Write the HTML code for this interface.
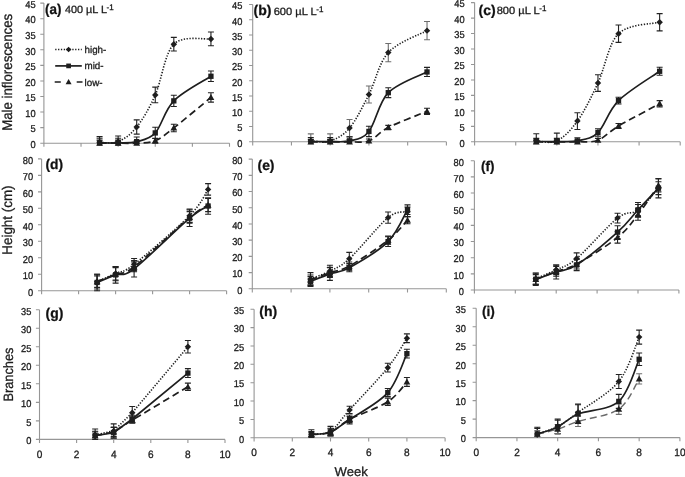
<!DOCTYPE html>
<html lang="en">
<head>
<meta charset="utf-8">
<title>Figure</title>
<style>
html,body{margin:0;padding:0;background:#fff;}
body{width:685px;height:477px;overflow:hidden;}
svg{display:block;font-family:'Liberation Sans', sans-serif;filter:blur(0.4px);}
text{stroke:#1c1c1c;stroke-width:0.3px;text-rendering:geometricPrecision;}
</style>
</head>
<body>
<svg width="685" height="477" viewBox="0 0 685 477">
<rect width="685" height="477" fill="#fff"/>
<path d="M43.9,3.11 V143.2 M43.9,143.2 H229.5 M40.3,143.2 H43.9 M40.3,127.63 H43.9 M40.3,112.07 H43.9 M40.3,96.5 H43.9 M40.3,80.94 H43.9 M40.3,65.37 H43.9 M40.3,49.81 H43.9 M40.3,34.24 H43.9 M40.3,18.68 H43.9 M40.3,3.11 H43.9 M43.9,143.2 V146.8 M81.02,143.2 V146.8 M118.14,143.2 V146.8 M155.26,143.2 V146.8 M192.38,143.2 V146.8 M229.5,143.2 V146.8" fill="none" stroke="#969696" stroke-width="1.1"/>
<text transform="translate(35.7,148) scale(0.93,1)" font-size="10" text-anchor="end" fill="#1c1c1c">0</text>
<text transform="translate(35.7,132.44) scale(0.93,1)" font-size="10" text-anchor="end" fill="#1c1c1c">5</text>
<text transform="translate(35.7,116.87) scale(0.93,1)" font-size="10" text-anchor="end" fill="#1c1c1c">10</text>
<text transform="translate(35.7,101.3) scale(0.93,1)" font-size="10" text-anchor="end" fill="#1c1c1c">15</text>
<text transform="translate(35.7,85.74) scale(0.93,1)" font-size="10" text-anchor="end" fill="#1c1c1c">20</text>
<text transform="translate(35.7,70.17) scale(0.93,1)" font-size="10" text-anchor="end" fill="#1c1c1c">25</text>
<text transform="translate(35.7,54.61) scale(0.93,1)" font-size="10" text-anchor="end" fill="#1c1c1c">30</text>
<text transform="translate(35.7,39.04) scale(0.93,1)" font-size="10" text-anchor="end" fill="#1c1c1c">35</text>
<text transform="translate(35.7,23.48) scale(0.93,1)" font-size="10" text-anchor="end" fill="#1c1c1c">40</text>
<text transform="translate(35.7,7.91) scale(0.93,1)" font-size="10" text-anchor="end" fill="#1c1c1c">45</text>
<path d="M99.58,136.66 V143.2 M96.58,136.66 H102.58 M118.14,136.04 V143.2 M115.14,136.04 H121.14 M136.7,119.85 V134.17 M133.7,119.85 H139.7 M133.7,134.17 H139.7 M155.26,87.17 V102.73 M152.26,87.17 H158.26 M152.26,102.73 H158.26 M173.82,37.36 V51.06 M170.82,37.36 H176.82 M170.82,51.06 H176.82 M210.94,32.07 V45.76 M207.94,32.07 H213.94 M207.94,45.76 H213.94" fill="none" stroke="#222" stroke-width="1.1"/>
<path d="M99.58,138.22 V143.2 M96.58,138.22 H102.58 M118.14,138.22 V143.2 M115.14,138.22 H121.14 M136.7,136.97 V143.2 M133.7,136.97 H139.7 M155.26,127.32 V138.53 M152.26,127.32 H158.26 M152.26,138.53 H158.26 M173.82,95.26 V106.47 M170.82,95.26 H176.82 M170.82,106.47 H176.82 M210.94,70.98 V81.56 M207.94,70.98 H213.94 M207.94,81.56 H213.94" fill="none" stroke="#222" stroke-width="1.1"/>
<path d="M99.58,140.09 V143.2 M96.58,140.09 H102.58 M118.14,140.09 V143.2 M115.14,140.09 H121.14 M136.7,140.71 V143.2 M133.7,140.71 H139.7 M155.26,138.22 V143.2 M152.26,138.22 H158.26 M152.26,143.2 H158.26 M173.82,124.21 V131.68 M170.82,124.21 H176.82 M170.82,131.68 H176.82 M210.94,92.77 V102.11 M207.94,92.77 H213.94 M207.94,102.11 H213.94" fill="none" stroke="#222" stroke-width="1.1"/>
<path d="M99.58,142.27 C102.67,142.16 111.95,144.19 118.14,141.64 C124.33,139.1 130.51,134.79 136.7,127.01 C142.89,119.23 149.07,108.75 155.26,94.95 C161.45,81.15 164.54,53.55 173.82,44.21 C183.1,34.87 204.75,39.8 210.94,38.91" fill="none" stroke="#1e1e1e" stroke-width="1.6" stroke-dasharray="1.3 1.55"/>
<path d="M99.58,139.05 L102.8,142.27 L99.58,145.49 L96.36,142.27Z" fill="#1e1e1e"/>
<path d="M118.14,138.42 L121.36,141.64 L118.14,144.86 L114.92,141.64Z" fill="#1e1e1e"/>
<path d="M136.7,123.79 L139.92,127.01 L136.7,130.23 L133.48,127.01Z" fill="#1e1e1e"/>
<path d="M155.26,91.73 L158.48,94.95 L155.26,98.17 L152.04,94.95Z" fill="#1e1e1e"/>
<path d="M173.82,40.99 L177.04,44.21 L173.82,47.43 L170.6,44.21Z" fill="#1e1e1e"/>
<path d="M210.94,35.69 L214.16,38.91 L210.94,42.13 L207.72,38.91Z" fill="#1e1e1e"/>
<path d="M99.58,143.2 C102.67,143.2 111.95,143.2 118.14,143.2 C124.33,143.2 130.51,143.62 136.7,143.2 C142.89,142.78 149.07,143.25 155.26,140.71 C161.45,138.17 164.54,135.16 173.82,127.95 C183.1,120.73 204.75,102.52 210.94,97.44" fill="none" stroke="#1e1e1e" stroke-width="1.7" stroke-dasharray="7 4"/>
<path d="M99.58,139.81 L102.97,145.8 L96.19,145.8Z" fill="#1e1e1e"/>
<path d="M118.14,139.81 L121.53,145.8 L114.75,145.8Z" fill="#1e1e1e"/>
<path d="M136.7,139.81 L140.09,145.8 L133.31,145.8Z" fill="#1e1e1e"/>
<path d="M155.26,137.32 L158.65,143.31 L151.87,143.31Z" fill="#1e1e1e"/>
<path d="M173.82,124.56 L177.21,130.55 L170.43,130.55Z" fill="#1e1e1e"/>
<path d="M210.94,94.05 L214.33,100.04 L207.55,100.04Z" fill="#1e1e1e"/>
<path d="M99.58,142.89 C102.67,142.89 111.95,143.1 118.14,142.89 C124.33,142.68 130.51,143.3 136.7,141.64 C142.89,139.98 149.07,139.72 155.26,132.93 C161.45,126.13 164.54,110.31 173.82,100.86 C183.1,91.42 204.75,80.37 210.94,76.27" fill="none" stroke="#1e1e1e" stroke-width="1.7"/>
<rect x="96.92" y="140.23" width="5.31" height="5.31" fill="#1e1e1e"/>
<rect x="115.48" y="140.23" width="5.31" height="5.31" fill="#1e1e1e"/>
<rect x="134.04" y="138.99" width="5.31" height="5.31" fill="#1e1e1e"/>
<rect x="152.6" y="130.27" width="5.31" height="5.31" fill="#1e1e1e"/>
<rect x="171.16" y="98.21" width="5.31" height="5.31" fill="#1e1e1e"/>
<rect x="208.28" y="73.61" width="5.31" height="5.31" fill="#1e1e1e"/>
<path d="M252.7,4.55 V141.8 M252.7,141.8 H446.4 M249.1,141.8 H252.7 M249.1,126.55 H252.7 M249.1,111.3 H252.7 M249.1,96.05 H252.7 M249.1,80.8 H252.7 M249.1,65.55 H252.7 M249.1,50.3 H252.7 M249.1,35.05 H252.7 M249.1,19.8 H252.7 M249.1,4.55 H252.7 M252.7,141.8 V145.4 M291.44,141.8 V145.4 M330.18,141.8 V145.4 M368.92,141.8 V145.4 M407.66,141.8 V145.4 M446.4,141.8 V145.4" fill="none" stroke="#969696" stroke-width="1.1"/>
<text transform="translate(242.3,146.6) scale(0.93,1)" font-size="10" text-anchor="end" fill="#1c1c1c">0</text>
<text transform="translate(242.3,131.35) scale(0.93,1)" font-size="10" text-anchor="end" fill="#1c1c1c">5</text>
<text transform="translate(242.3,116.1) scale(0.93,1)" font-size="10" text-anchor="end" fill="#1c1c1c">10</text>
<text transform="translate(242.3,100.85) scale(0.93,1)" font-size="10" text-anchor="end" fill="#1c1c1c">15</text>
<text transform="translate(242.3,85.6) scale(0.93,1)" font-size="10" text-anchor="end" fill="#1c1c1c">20</text>
<text transform="translate(242.3,70.35) scale(0.93,1)" font-size="10" text-anchor="end" fill="#1c1c1c">25</text>
<text transform="translate(242.3,55.1) scale(0.93,1)" font-size="10" text-anchor="end" fill="#1c1c1c">30</text>
<text transform="translate(242.3,39.85) scale(0.93,1)" font-size="10" text-anchor="end" fill="#1c1c1c">35</text>
<text transform="translate(242.3,24.6) scale(0.93,1)" font-size="10" text-anchor="end" fill="#1c1c1c">40</text>
<text transform="translate(242.3,9.35) scale(0.93,1)" font-size="10" text-anchor="end" fill="#1c1c1c">45</text>
<path d="M310.81,133.87 V141.8 M307.81,133.87 H313.81 M330.18,133.87 V141.8 M327.18,133.87 H333.18 M349.55,119.54 V136.62 M346.55,119.54 H352.55 M346.55,136.62 H352.55 M368.92,85.99 V103.07 M365.92,85.99 H371.92 M365.92,103.07 H371.92 M388.29,43.44 V61.74 M385.29,43.44 H391.29 M385.29,61.74 H391.29 M427.03,21.48 V39.78 M424.03,21.48 H430.03 M424.03,39.78 H430.03" fill="none" stroke="#6e6e6e" stroke-width="1.1"/>
<path d="M310.81,137.53 V141.8 M307.81,137.53 H313.81 M330.18,137.53 V141.8 M327.18,137.53 H333.18 M349.55,136.92 V141.8 M346.55,136.92 H352.55 M368.92,126.25 V136.62 M365.92,126.25 H371.92 M365.92,136.62 H371.92 M388.29,87.81 V97.58 M385.29,87.81 H391.29 M385.29,97.58 H391.29 M427.03,67.38 V76.53 M424.03,67.38 H430.03 M424.03,76.53 H430.03" fill="none" stroke="#222" stroke-width="1.1"/>
<path d="M310.81,139.36 V141.8 M307.81,139.36 H313.81 M330.18,139.36 V141.8 M327.18,139.36 H333.18 M349.55,139.36 V141.8 M346.55,139.36 H352.55 M368.92,139.06 V141.8 M365.92,139.06 H371.92 M388.29,125.33 V129.6 M385.29,125.33 H391.29 M385.29,129.6 H391.29 M427.03,108.25 V114.35 M424.03,108.25 H430.03 M424.03,114.35 H430.03" fill="none" stroke="#222" stroke-width="1.1"/>
<path d="M310.81,140.89 C314.04,140.89 323.72,143.02 330.18,140.89 C336.64,138.75 343.09,135.8 349.55,128.08 C356.01,120.35 362.46,107.11 368.92,94.53 C375.38,81.94 378.6,63.24 388.29,52.59 C397.97,41.94 420.57,34.29 427.03,30.63" fill="none" stroke="#1e1e1e" stroke-width="1.6" stroke-dasharray="1.3 1.55"/>
<path d="M310.81,137.66 L314.03,140.89 L310.81,144.11 L307.59,140.89Z" fill="#1e1e1e"/>
<path d="M330.18,137.66 L333.4,140.89 L330.18,144.11 L326.96,140.89Z" fill="#1e1e1e"/>
<path d="M349.55,124.85 L352.77,128.08 L349.55,131.3 L346.33,128.08Z" fill="#1e1e1e"/>
<path d="M368.92,91.3 L372.14,94.53 L368.92,97.75 L365.7,94.53Z" fill="#1e1e1e"/>
<path d="M388.29,49.37 L391.51,52.59 L388.29,55.81 L385.07,52.59Z" fill="#1e1e1e"/>
<path d="M427.03,27.41 L430.25,30.63 L427.03,33.85 L423.81,30.63Z" fill="#1e1e1e"/>
<path d="M310.81,141.8 C314.04,141.8 323.72,141.8 330.18,141.8 C336.64,141.8 343.09,141.95 349.55,141.8 C356.01,141.65 362.46,143.27 368.92,140.89 C375.38,138.5 378.6,132.4 388.29,127.47 C397.97,122.53 420.57,113.99 427.03,111.3" fill="none" stroke="#1e1e1e" stroke-width="1.7" stroke-dasharray="7 4"/>
<path d="M310.81,138.41 L314.2,144.4 L307.42,144.4Z" fill="#1e1e1e"/>
<path d="M330.18,138.41 L333.57,144.4 L326.79,144.4Z" fill="#1e1e1e"/>
<path d="M349.55,138.41 L352.94,144.4 L346.16,144.4Z" fill="#1e1e1e"/>
<path d="M368.92,137.5 L372.31,143.48 L365.53,143.48Z" fill="#1e1e1e"/>
<path d="M388.29,124.08 L391.68,130.06 L384.9,130.06Z" fill="#1e1e1e"/>
<path d="M427.03,107.91 L430.42,113.9 L423.64,113.9Z" fill="#1e1e1e"/>
<path d="M310.81,141.5 C314.04,141.5 323.72,141.6 330.18,141.5 C336.64,141.39 343.09,142.56 349.55,140.89 C356.01,139.21 362.46,139.46 368.92,131.43 C375.38,123.4 378.6,102.61 388.29,92.7 C397.97,82.78 420.57,75.41 427.03,71.96" fill="none" stroke="#1e1e1e" stroke-width="1.7"/>
<rect x="308.15" y="138.84" width="5.31" height="5.31" fill="#1e1e1e"/>
<rect x="327.52" y="138.84" width="5.31" height="5.31" fill="#1e1e1e"/>
<rect x="346.89" y="138.23" width="5.31" height="5.31" fill="#1e1e1e"/>
<rect x="366.26" y="128.77" width="5.31" height="5.31" fill="#1e1e1e"/>
<rect x="385.63" y="90.04" width="5.31" height="5.31" fill="#1e1e1e"/>
<rect x="424.37" y="69.3" width="5.31" height="5.31" fill="#1e1e1e"/>
<path d="M474.6,2.62 V141.8 M474.6,141.8 H680.2 M471,141.8 H474.6 M471,126.34 H474.6 M471,110.87 H474.6 M471,95.41 H474.6 M471,79.94 H474.6 M471,64.48 H474.6 M471,49.01 H474.6 M471,33.55 H474.6 M471,18.08 H474.6 M471,2.62 H474.6 M474.6,141.8 V145.4 M515.72,141.8 V145.4 M556.84,141.8 V145.4 M597.96,141.8 V145.4 M639.08,141.8 V145.4 M680.2,141.8 V145.4" fill="none" stroke="#969696" stroke-width="1.1"/>
<text transform="translate(464.6,146.6) scale(0.93,1)" font-size="10" text-anchor="end" fill="#1c1c1c">0</text>
<text transform="translate(464.6,131.14) scale(0.93,1)" font-size="10" text-anchor="end" fill="#1c1c1c">5</text>
<text transform="translate(464.6,115.67) scale(0.93,1)" font-size="10" text-anchor="end" fill="#1c1c1c">10</text>
<text transform="translate(464.6,100.21) scale(0.93,1)" font-size="10" text-anchor="end" fill="#1c1c1c">15</text>
<text transform="translate(464.6,84.74) scale(0.93,1)" font-size="10" text-anchor="end" fill="#1c1c1c">20</text>
<text transform="translate(464.6,69.28) scale(0.93,1)" font-size="10" text-anchor="end" fill="#1c1c1c">25</text>
<text transform="translate(464.6,53.81) scale(0.93,1)" font-size="10" text-anchor="end" fill="#1c1c1c">30</text>
<text transform="translate(464.6,38.35) scale(0.93,1)" font-size="10" text-anchor="end" fill="#1c1c1c">35</text>
<text transform="translate(464.6,22.88) scale(0.93,1)" font-size="10" text-anchor="end" fill="#1c1c1c">40</text>
<text transform="translate(464.6,7.42) scale(0.93,1)" font-size="10" text-anchor="end" fill="#1c1c1c">45</text>
<path d="M536.28,133.76 V141.8 M533.28,133.76 H539.28 M556.84,133.14 V141.8 M553.84,133.14 H559.84 M577.4,112.73 V129.43 M574.4,112.73 H580.4 M574.4,129.43 H580.4 M597.96,74.68 V91.38 M594.96,74.68 H600.96 M594.96,91.38 H600.96 M618.52,25.04 V42.36 M615.52,25.04 H621.52 M615.52,42.36 H621.52 M659.64,13.6 V30.92 M656.64,13.6 H662.64 M656.64,30.92 H662.64" fill="none" stroke="#222" stroke-width="1.1"/>
<path d="M536.28,138.4 V141.8 M533.28,138.4 H539.28 M556.84,138.4 V141.8 M553.84,138.4 H559.84 M577.4,137.78 V141.8 M574.4,137.78 H580.4 M597.96,128.81 V136.23 M594.96,128.81 H600.96 M594.96,136.23 H600.96 M618.52,97.26 V104.07 M615.52,97.26 H621.52 M615.52,104.07 H621.52 M659.64,67.26 V75.3 M656.64,67.26 H662.64 M656.64,75.3 H662.64" fill="none" stroke="#222" stroke-width="1.1"/>
<path d="M536.28,139.94 V141.8 M533.28,139.94 H539.28 M556.84,139.94 V141.8 M553.84,139.94 H559.84 M577.4,139.94 V141.8 M574.4,139.94 H580.4 M597.96,138.4 V141.8 M594.96,138.4 H600.96 M618.52,123.55 V128.5 M615.52,123.55 H621.52 M615.52,128.5 H621.52 M659.64,100.66 V106.85 M656.64,100.66 H662.64 M656.64,106.85 H662.64" fill="none" stroke="#222" stroke-width="1.1"/>
<path d="M536.28,140.87 C539.71,140.87 549.99,144.17 556.84,140.87 C563.69,137.57 570.55,130.72 577.4,121.08 C584.25,111.44 591.11,97.6 597.96,83.03 C604.81,68.47 608.24,43.83 618.52,33.7 C628.8,23.57 652.79,24.16 659.64,22.26" fill="none" stroke="#1e1e1e" stroke-width="1.6" stroke-dasharray="1.3 1.55"/>
<path d="M536.28,137.65 L539.5,140.87 L536.28,144.09 L533.06,140.87Z" fill="#1e1e1e"/>
<path d="M556.84,137.65 L560.06,140.87 L556.84,144.09 L553.62,140.87Z" fill="#1e1e1e"/>
<path d="M577.4,117.86 L580.62,121.08 L577.4,124.3 L574.18,121.08Z" fill="#1e1e1e"/>
<path d="M597.96,79.81 L601.18,83.03 L597.96,86.25 L594.74,83.03Z" fill="#1e1e1e"/>
<path d="M618.52,30.48 L621.74,33.7 L618.52,36.92 L615.3,33.7Z" fill="#1e1e1e"/>
<path d="M659.64,19.04 L662.86,22.26 L659.64,25.48 L656.42,22.26Z" fill="#1e1e1e"/>
<path d="M536.28,141.8 C539.71,141.8 549.99,141.8 556.84,141.8 C563.69,141.8 570.55,142.06 577.4,141.8 C584.25,141.54 591.11,142.88 597.96,140.25 C604.81,137.62 608.24,132.11 618.52,126.03 C628.8,119.94 652.79,107.47 659.64,103.76" fill="none" stroke="#1e1e1e" stroke-width="1.7" stroke-dasharray="7 4"/>
<path d="M536.28,138.41 L539.67,144.4 L532.89,144.4Z" fill="#1e1e1e"/>
<path d="M556.84,138.41 L560.23,144.4 L553.45,144.4Z" fill="#1e1e1e"/>
<path d="M577.4,138.41 L580.79,144.4 L574.01,144.4Z" fill="#1e1e1e"/>
<path d="M597.96,136.86 L601.35,142.85 L594.57,142.85Z" fill="#1e1e1e"/>
<path d="M618.52,122.64 L621.91,128.62 L615.13,128.62Z" fill="#1e1e1e"/>
<path d="M659.64,100.37 L663.03,106.36 L656.25,106.36Z" fill="#1e1e1e"/>
<path d="M536.28,141.49 C539.71,141.49 549.99,141.59 556.84,141.49 C563.69,141.39 570.55,142.37 577.4,140.87 C584.25,139.38 591.11,139.22 597.96,132.52 C604.81,125.82 608.24,110.87 618.52,100.66 C628.8,90.46 652.79,76.18 659.64,71.28" fill="none" stroke="#1e1e1e" stroke-width="1.7"/>
<rect x="533.62" y="138.84" width="5.31" height="5.31" fill="#1e1e1e"/>
<rect x="554.18" y="138.84" width="5.31" height="5.31" fill="#1e1e1e"/>
<rect x="574.74" y="138.22" width="5.31" height="5.31" fill="#1e1e1e"/>
<rect x="595.3" y="129.87" width="5.31" height="5.31" fill="#1e1e1e"/>
<rect x="615.86" y="98.01" width="5.31" height="5.31" fill="#1e1e1e"/>
<rect x="656.98" y="68.62" width="5.31" height="5.31" fill="#1e1e1e"/>
<path d="M41.6,158.9 V290.7 M41.6,290.7 H226.6 M38,290.7 H41.6 M38,274.22 H41.6 M38,257.75 H41.6 M38,241.27 H41.6 M38,224.8 H41.6 M38,208.32 H41.6 M38,191.85 H41.6 M38,175.38 H41.6 M38,158.9 H41.6 M41.6,290.7 V294.3 M78.6,290.7 V294.3 M115.6,290.7 V294.3 M152.6,290.7 V294.3 M189.6,290.7 V294.3 M226.6,290.7 V294.3" fill="none" stroke="#969696" stroke-width="1.1"/>
<text transform="translate(33.2,295.5) scale(0.93,1)" font-size="10" text-anchor="end" fill="#1c1c1c">0</text>
<text transform="translate(33.2,279.02) scale(0.93,1)" font-size="10" text-anchor="end" fill="#1c1c1c">10</text>
<text transform="translate(33.2,262.55) scale(0.93,1)" font-size="10" text-anchor="end" fill="#1c1c1c">20</text>
<text transform="translate(33.2,246.07) scale(0.93,1)" font-size="10" text-anchor="end" fill="#1c1c1c">30</text>
<text transform="translate(33.2,229.6) scale(0.93,1)" font-size="10" text-anchor="end" fill="#1c1c1c">40</text>
<text transform="translate(33.2,213.12) scale(0.93,1)" font-size="10" text-anchor="end" fill="#1c1c1c">50</text>
<text transform="translate(33.2,196.65) scale(0.93,1)" font-size="10" text-anchor="end" fill="#1c1c1c">60</text>
<text transform="translate(33.2,180.18) scale(0.93,1)" font-size="10" text-anchor="end" fill="#1c1c1c">70</text>
<text transform="translate(33.2,163.7) scale(0.93,1)" font-size="10" text-anchor="end" fill="#1c1c1c">80</text>
<path d="M97.1,274.22 V289.05 M94.1,274.22 H100.1 M94.1,289.05 H100.1 M115.6,266.81 V279.99 M112.6,266.81 H118.6 M112.6,279.99 H118.6 M134.1,258.57 V270.11 M131.1,258.57 H137.1 M131.1,270.11 H137.1 M189.6,209.15 V222.33 M186.6,209.15 H192.6 M186.6,222.33 H192.6 M208.1,183.61 V195.14 M205.1,183.61 H211.1 M205.1,195.14 H211.1" fill="none" stroke="#222" stroke-width="1.1"/>
<path d="M97.1,274.22 V290.7 M94.1,274.22 H100.1 M94.1,290.7 H100.1 M115.6,266.65 V283.12 M112.6,266.65 H118.6 M112.6,283.12 H118.6 M134.1,260.55 V277.03 M131.1,260.55 H137.1 M131.1,277.03 H137.1 M189.6,209.97 V226.45 M186.6,209.97 H192.6 M186.6,226.45 H192.6 M208.1,197.78 V214.26 M205.1,197.78 H211.1 M205.1,214.26 H211.1" fill="none" stroke="#222" stroke-width="1.1"/>
<path d="M97.1,275.87 V287.4 M94.1,275.87 H100.1 M94.1,287.4 H100.1 M115.6,267.63 V280.81 M112.6,267.63 H118.6 M112.6,280.81 H118.6 M134.1,261.87 V271.75 M131.1,261.87 H137.1 M131.1,271.75 H137.1 M189.6,211.62 V223.15 M186.6,211.62 H192.6 M186.6,223.15 H192.6 M208.1,198.44 V211.62 M205.1,198.44 H211.1 M205.1,211.62 H211.1" fill="none" stroke="#222" stroke-width="1.1"/>
<path d="M97.1,281.64 C100.18,280.27 109.43,276.28 115.6,273.4 C121.77,270.52 121.77,273.95 134.1,264.34 C146.43,254.73 177.27,228.23 189.6,215.74 C201.93,203.25 205.02,193.77 208.1,189.38" fill="none" stroke="#1e1e1e" stroke-width="1.6" stroke-dasharray="1.3 1.55"/>
<path d="M97.1,278.42 L100.32,281.64 L97.1,284.86 L93.88,281.64Z" fill="#1e1e1e"/>
<path d="M115.6,270.18 L118.82,273.4 L115.6,276.62 L112.38,273.4Z" fill="#1e1e1e"/>
<path d="M134.1,261.12 L137.32,264.34 L134.1,267.56 L130.88,264.34Z" fill="#1e1e1e"/>
<path d="M189.6,212.52 L192.82,215.74 L189.6,218.96 L186.38,215.74Z" fill="#1e1e1e"/>
<path d="M208.1,186.16 L211.32,189.38 L208.1,192.6 L204.88,189.38Z" fill="#1e1e1e"/>
<path d="M97.1,281.64 C100.18,280.4 109.43,276.7 115.6,274.22 C121.77,271.75 121.77,276.28 134.1,266.81 C146.43,257.34 177.27,227.68 189.6,217.39 C201.93,207.09 205.02,207.09 208.1,205.03" fill="none" stroke="#1e1e1e" stroke-width="1.7" stroke-dasharray="7 4"/>
<path d="M97.1,278.25 L100.49,284.24 L93.71,284.24Z" fill="#1e1e1e"/>
<path d="M115.6,270.83 L118.99,276.82 L112.21,276.82Z" fill="#1e1e1e"/>
<path d="M134.1,263.42 L137.49,269.41 L130.71,269.41Z" fill="#1e1e1e"/>
<path d="M189.6,214 L192.99,219.99 L186.21,219.99Z" fill="#1e1e1e"/>
<path d="M208.1,201.64 L211.49,207.63 L204.71,207.63Z" fill="#1e1e1e"/>
<path d="M97.1,282.46 C100.18,281.2 109.43,277.16 115.6,274.88 C121.77,272.6 121.77,278.23 134.1,268.79 C146.43,259.34 177.27,228.67 189.6,218.21 C201.93,207.75 205.02,208.05 208.1,206.02" fill="none" stroke="#1e1e1e" stroke-width="1.7"/>
<rect x="94.44" y="279.81" width="5.31" height="5.31" fill="#1e1e1e"/>
<rect x="112.94" y="272.23" width="5.31" height="5.31" fill="#1e1e1e"/>
<rect x="131.44" y="266.13" width="5.31" height="5.31" fill="#1e1e1e"/>
<rect x="186.94" y="215.55" width="5.31" height="5.31" fill="#1e1e1e"/>
<rect x="205.44" y="203.36" width="5.31" height="5.31" fill="#1e1e1e"/>
<path d="M252.3,159.12 V288.8 M252.3,288.8 H446.3 M248.7,288.8 H252.3 M248.7,272.59 H252.3 M248.7,256.38 H252.3 M248.7,240.17 H252.3 M248.7,223.96 H252.3 M248.7,207.75 H252.3 M248.7,191.54 H252.3 M248.7,175.33 H252.3 M248.7,159.12 H252.3 M252.3,288.8 V292.4 M291.1,288.8 V292.4 M329.9,288.8 V292.4 M368.7,288.8 V292.4 M407.5,288.8 V292.4 M446.3,288.8 V292.4" fill="none" stroke="#969696" stroke-width="1.1"/>
<text transform="translate(242.5,293.6) scale(0.93,1)" font-size="10" text-anchor="end" fill="#1c1c1c">0</text>
<text transform="translate(242.5,277.39) scale(0.93,1)" font-size="10" text-anchor="end" fill="#1c1c1c">10</text>
<text transform="translate(242.5,261.18) scale(0.93,1)" font-size="10" text-anchor="end" fill="#1c1c1c">20</text>
<text transform="translate(242.5,244.97) scale(0.93,1)" font-size="10" text-anchor="end" fill="#1c1c1c">30</text>
<text transform="translate(242.5,228.76) scale(0.93,1)" font-size="10" text-anchor="end" fill="#1c1c1c">40</text>
<text transform="translate(242.5,212.55) scale(0.93,1)" font-size="10" text-anchor="end" fill="#1c1c1c">50</text>
<text transform="translate(242.5,196.34) scale(0.93,1)" font-size="10" text-anchor="end" fill="#1c1c1c">60</text>
<text transform="translate(242.5,180.13) scale(0.93,1)" font-size="10" text-anchor="end" fill="#1c1c1c">70</text>
<text transform="translate(242.5,163.92) scale(0.93,1)" font-size="10" text-anchor="end" fill="#1c1c1c">80</text>
<path d="M310.5,272.59 V285.56 M307.5,272.59 H313.5 M307.5,285.56 H313.5 M329.9,265.3 V276.64 M326.9,265.3 H332.9 M326.9,276.64 H332.9 M349.3,252.33 V265.3 M346.3,252.33 H352.3 M346.3,265.3 H352.3 M388.1,211.96 V223.31 M385.1,211.96 H391.1 M385.1,223.31 H391.1 M407.5,206.94 V216.67 M404.5,206.94 H410.5 M404.5,216.67 H410.5" fill="none" stroke="#222" stroke-width="1.1"/>
<path d="M310.5,276.64 V286.37 M307.5,276.64 H313.5 M307.5,286.37 H313.5 M329.9,267.4 V280.37 M326.9,267.4 H332.9 M326.9,280.37 H332.9 M349.3,263.67 V271.78 M346.3,263.67 H352.3 M346.3,271.78 H352.3 M388.1,236.77 V246.49 M385.1,236.77 H391.1 M385.1,246.49 H391.1 M407.5,204.83 V214.56 M404.5,204.83 H410.5 M404.5,214.56 H410.5" fill="none" stroke="#222" stroke-width="1.1"/>
<path d="M310.5,275.02 V284.75 M307.5,275.02 H313.5 M307.5,284.75 H313.5 M329.9,267.73 V277.45 M326.9,267.73 H332.9 M326.9,277.45 H332.9 M349.3,262.05 V270.16 M346.3,262.05 H352.3 M346.3,270.16 H352.3 M388.1,236.12 V244.22 M385.1,236.12 H391.1 M385.1,244.22 H391.1 M407.5,216.67 V223.8 M404.5,216.67 H410.5 M404.5,223.8 H410.5" fill="none" stroke="#222" stroke-width="1.1"/>
<path d="M310.5,279.07 C313.73,277.72 323.43,274.35 329.9,270.97 C336.37,267.59 339.6,267.7 349.3,258.81 C359,249.92 378.4,225.47 388.1,217.64 C397.8,209.8 404.27,212.78 407.5,211.8" fill="none" stroke="#1e1e1e" stroke-width="1.6" stroke-dasharray="1.3 1.55"/>
<path d="M310.5,275.85 L313.72,279.07 L310.5,282.29 L307.28,279.07Z" fill="#1e1e1e"/>
<path d="M329.9,267.75 L333.12,270.97 L329.9,274.19 L326.68,270.97Z" fill="#1e1e1e"/>
<path d="M349.3,255.59 L352.52,258.81 L349.3,262.03 L346.08,258.81Z" fill="#1e1e1e"/>
<path d="M388.1,214.42 L391.32,217.64 L388.1,220.86 L384.88,217.64Z" fill="#1e1e1e"/>
<path d="M407.5,208.58 L410.72,211.8 L407.5,215.02 L404.28,211.8Z" fill="#1e1e1e"/>
<path d="M310.5,279.88 C313.73,278.67 323.43,274.89 329.9,272.59 C336.37,270.29 339.6,271.51 349.3,266.11 C359,260.7 378.4,247.82 388.1,240.17 C397.8,232.52 404.27,223.55 407.5,220.23" fill="none" stroke="#1e1e1e" stroke-width="1.7" stroke-dasharray="7 4"/>
<path d="M310.5,276.49 L313.89,282.48 L307.11,282.48Z" fill="#1e1e1e"/>
<path d="M329.9,269.2 L333.29,275.19 L326.51,275.19Z" fill="#1e1e1e"/>
<path d="M349.3,262.72 L352.69,268.7 L345.91,268.7Z" fill="#1e1e1e"/>
<path d="M388.1,236.78 L391.49,242.77 L384.71,242.77Z" fill="#1e1e1e"/>
<path d="M407.5,216.84 L410.89,222.83 L404.11,222.83Z" fill="#1e1e1e"/>
<path d="M310.5,281.51 C313.73,280.24 323.43,276.18 329.9,273.89 C336.37,271.59 339.6,273.1 349.3,267.73 C359,262.35 378.4,251.3 388.1,241.63 C397.8,231.96 404.27,215.02 407.5,209.7" fill="none" stroke="#1e1e1e" stroke-width="1.7"/>
<rect x="307.84" y="278.85" width="5.31" height="5.31" fill="#1e1e1e"/>
<rect x="327.24" y="271.23" width="5.31" height="5.31" fill="#1e1e1e"/>
<rect x="346.64" y="265.07" width="5.31" height="5.31" fill="#1e1e1e"/>
<rect x="385.44" y="238.97" width="5.31" height="5.31" fill="#1e1e1e"/>
<rect x="404.84" y="207.04" width="5.31" height="5.31" fill="#1e1e1e"/>
<path d="M474.4,160.72 V290 M474.4,290 H678.9 M470.8,290 H474.4 M470.8,273.84 H474.4 M470.8,257.68 H474.4 M470.8,241.52 H474.4 M470.8,225.36 H474.4 M470.8,209.2 H474.4 M470.8,193.04 H474.4 M470.8,176.88 H474.4 M470.8,160.72 H474.4 M474.4,290 V293.6 M515.3,290 V293.6 M556.2,290 V293.6 M597.1,290 V293.6 M638,290 V293.6 M678.9,290 V293.6" fill="none" stroke="#969696" stroke-width="1.1"/>
<text transform="translate(463.8,294.8) scale(0.93,1)" font-size="10" text-anchor="end" fill="#1c1c1c">0</text>
<text transform="translate(463.8,278.64) scale(0.93,1)" font-size="10" text-anchor="end" fill="#1c1c1c">10</text>
<text transform="translate(463.8,262.48) scale(0.93,1)" font-size="10" text-anchor="end" fill="#1c1c1c">20</text>
<text transform="translate(463.8,246.32) scale(0.93,1)" font-size="10" text-anchor="end" fill="#1c1c1c">30</text>
<text transform="translate(463.8,230.16) scale(0.93,1)" font-size="10" text-anchor="end" fill="#1c1c1c">40</text>
<text transform="translate(463.8,214) scale(0.93,1)" font-size="10" text-anchor="end" fill="#1c1c1c">50</text>
<text transform="translate(463.8,197.84) scale(0.93,1)" font-size="10" text-anchor="end" fill="#1c1c1c">60</text>
<text transform="translate(463.8,181.68) scale(0.93,1)" font-size="10" text-anchor="end" fill="#1c1c1c">70</text>
<text transform="translate(463.8,165.52) scale(0.93,1)" font-size="10" text-anchor="end" fill="#1c1c1c">80</text>
<path d="M535.75,273.03 V284.34 M532.75,273.03 H538.75 M532.75,284.34 H538.75 M556.2,264.95 V274.65 M553.2,264.95 H559.2 M553.2,274.65 H559.2 M576.65,252.83 V264.14 M573.65,252.83 H579.65 M573.65,264.14 H579.65 M617.55,213.24 V222.94 M614.55,213.24 H620.55 M614.55,222.94 H620.55 M638,204.51 V215.83 M635,204.51 H641 M635,215.83 H641 M658.45,181.73 V194.66 M655.45,181.73 H661.45 M655.45,194.66 H661.45" fill="none" stroke="#222" stroke-width="1.1"/>
<path d="M535.75,273.19 V285.48 M532.75,273.19 H538.75 M532.75,285.48 H538.75 M556.2,265.11 V279.01 M553.2,265.11 H559.2 M553.2,279.01 H559.2 M576.65,259.3 V270.61 M573.65,259.3 H579.65 M573.65,270.61 H579.65 M617.55,225.68 V238.61 M614.55,225.68 H620.55 M614.55,238.61 H620.55 M638,202.57 V217.12 M635,202.57 H641 M635,217.12 H641 M658.45,178.5 V197.89 M655.45,178.5 H661.45 M655.45,197.89 H661.45" fill="none" stroke="#222" stroke-width="1.1"/>
<path d="M535.75,274.65 V284.34 M532.75,274.65 H538.75 M532.75,284.34 H538.75 M556.2,266.57 V276.26 M553.2,266.57 H559.2 M553.2,276.26 H559.2 M576.65,259.3 V268.99 M573.65,259.3 H579.65 M573.65,268.99 H579.65 M617.55,231.82 V243.14 M614.55,231.82 H620.55 M614.55,243.14 H620.55 M638,208.88 V220.19 M635,208.88 H641 M635,220.19 H641 M658.45,178.98 V191.91 M655.45,178.98 H661.45 M655.45,191.91 H661.45" fill="none" stroke="#222" stroke-width="1.1"/>
<path d="M535.75,278.69 C539.16,277.21 549.38,273.17 556.2,269.8 C563.02,266.43 566.42,267.11 576.65,258.49 C586.88,249.87 607.32,226.14 617.55,218.09 C627.77,210.03 631.18,215.15 638,210.17 C644.82,205.19 655.04,191.85 658.45,188.19" fill="none" stroke="#1e1e1e" stroke-width="1.6" stroke-dasharray="1.3 1.55"/>
<path d="M535.75,275.47 L538.97,278.69 L535.75,281.91 L532.53,278.69Z" fill="#1e1e1e"/>
<path d="M556.2,266.58 L559.42,269.8 L556.2,273.02 L552.98,269.8Z" fill="#1e1e1e"/>
<path d="M576.65,255.27 L579.87,258.49 L576.65,261.71 L573.43,258.49Z" fill="#1e1e1e"/>
<path d="M617.55,214.87 L620.77,218.09 L617.55,221.31 L614.33,218.09Z" fill="#1e1e1e"/>
<path d="M638,206.95 L641.22,210.17 L638,213.39 L634.78,210.17Z" fill="#1e1e1e"/>
<path d="M658.45,184.97 L661.67,188.19 L658.45,191.41 L655.23,188.19Z" fill="#1e1e1e"/>
<path d="M535.75,279.5 C539.16,278.15 549.38,273.97 556.2,271.42 C563.02,268.86 566.42,269.8 576.65,264.14 C586.88,258.49 607.32,245.75 617.55,237.48 C627.77,229.21 631.18,223.21 638,214.53 C644.82,205.86 655.04,190.29 658.45,185.44" fill="none" stroke="#1e1e1e" stroke-width="1.7" stroke-dasharray="7 4"/>
<path d="M535.75,276.11 L539.14,282.09 L532.36,282.09Z" fill="#1e1e1e"/>
<path d="M556.2,268.03 L559.59,274.01 L552.81,274.01Z" fill="#1e1e1e"/>
<path d="M576.65,260.75 L580.04,266.74 L573.26,266.74Z" fill="#1e1e1e"/>
<path d="M617.55,234.09 L620.94,240.08 L614.16,240.08Z" fill="#1e1e1e"/>
<path d="M638,211.14 L641.39,217.13 L634.61,217.13Z" fill="#1e1e1e"/>
<path d="M658.45,182.05 L661.84,188.04 L655.06,188.04Z" fill="#1e1e1e"/>
<path d="M535.75,279.33 C539.16,278.12 549.38,274.46 556.2,272.06 C563.02,269.67 566.42,271.6 576.65,264.95 C586.88,258.3 607.32,241.33 617.55,232.15 C627.77,222.96 631.18,217.17 638,209.85 C644.82,202.52 655.04,191.8 658.45,188.19" fill="none" stroke="#1e1e1e" stroke-width="1.7"/>
<rect x="533.09" y="276.68" width="5.31" height="5.31" fill="#1e1e1e"/>
<rect x="553.54" y="269.41" width="5.31" height="5.31" fill="#1e1e1e"/>
<rect x="573.99" y="262.3" width="5.31" height="5.31" fill="#1e1e1e"/>
<rect x="614.89" y="229.49" width="5.31" height="5.31" fill="#1e1e1e"/>
<rect x="635.34" y="207.19" width="5.31" height="5.31" fill="#1e1e1e"/>
<rect x="655.79" y="185.54" width="5.31" height="5.31" fill="#1e1e1e"/>
<path d="M39.5,309.72 V439.4 M39.5,439.4 H225 M35.9,439.4 H39.5 M35.9,420.88 H39.5 M35.9,402.35 H39.5 M35.9,383.82 H39.5 M35.9,365.3 H39.5 M35.9,346.77 H39.5 M35.9,328.25 H39.5 M35.9,309.72 H39.5 M39.5,439.4 V443 M76.6,439.4 V443 M113.7,439.4 V443 M150.8,439.4 V443 M187.9,439.4 V443 M225,439.4 V443" fill="none" stroke="#969696" stroke-width="1.1"/>
<text transform="translate(31.4,444.2) scale(0.93,1)" font-size="10" text-anchor="end" fill="#1c1c1c">0</text>
<text transform="translate(31.4,425.68) scale(0.93,1)" font-size="10" text-anchor="end" fill="#1c1c1c">5</text>
<text transform="translate(31.4,407.15) scale(0.93,1)" font-size="10" text-anchor="end" fill="#1c1c1c">10</text>
<text transform="translate(31.4,388.62) scale(0.93,1)" font-size="10" text-anchor="end" fill="#1c1c1c">15</text>
<text transform="translate(31.4,370.1) scale(0.93,1)" font-size="10" text-anchor="end" fill="#1c1c1c">20</text>
<text transform="translate(31.4,351.57) scale(0.93,1)" font-size="10" text-anchor="end" fill="#1c1c1c">25</text>
<text transform="translate(31.4,333.05) scale(0.93,1)" font-size="10" text-anchor="end" fill="#1c1c1c">30</text>
<text transform="translate(31.4,314.52) scale(0.93,1)" font-size="10" text-anchor="end" fill="#1c1c1c">35</text>
<path d="M95.15,429.03 V439.4 M92.15,429.03 H98.15 M113.7,423.84 V437.92 M110.7,423.84 H116.7 M110.7,437.92 H116.7 M132.25,406.43 V419.02 M129.25,406.43 H135.25 M129.25,419.02 H135.25 M187.9,340.48 V353.07 M184.9,340.48 H190.9 M184.9,353.07 H190.9" fill="none" stroke="#222" stroke-width="1.1"/>
<path d="M95.15,431.25 V439.4 M92.15,431.25 H98.15 M113.7,427.17 V438.29 M110.7,427.17 H116.7 M110.7,438.29 H116.7 M132.25,415.32 V422.73 M129.25,415.32 H135.25 M129.25,422.73 H135.25 M187.9,368.63 V377.53 M184.9,368.63 H190.9 M184.9,377.53 H190.9" fill="none" stroke="#222" stroke-width="1.1"/>
<path d="M95.15,431.99 V439.4 M92.15,431.99 H98.15 M92.15,439.4 H98.15 M113.7,427.54 V436.44 M110.7,427.54 H116.7 M110.7,436.44 H116.7 M132.25,417.17 V423.1 M129.25,417.17 H135.25 M129.25,423.1 H135.25 M187.9,383.08 V390.49 M184.9,383.08 H190.9 M184.9,390.49 H190.9" fill="none" stroke="#222" stroke-width="1.1"/>
<path d="M95.15,434.95 L113.7,430.88 L132.25,412.72 L187.9,346.77" fill="none" stroke="#1e1e1e" stroke-width="1.6" stroke-dasharray="1.3 1.55"/>
<path d="M95.15,431.73 L98.37,434.95 L95.15,438.17 L91.93,434.95Z" fill="#1e1e1e"/>
<path d="M113.7,427.66 L116.92,430.88 L113.7,434.1 L110.48,430.88Z" fill="#1e1e1e"/>
<path d="M132.25,409.5 L135.47,412.72 L132.25,415.94 L129.03,412.72Z" fill="#1e1e1e"/>
<path d="M187.9,343.55 L191.12,346.77 L187.9,350 L184.68,346.77Z" fill="#1e1e1e"/>
<path d="M95.15,435.69 L113.7,431.99 L132.25,420.13 L187.9,386.79" fill="none" stroke="#1e1e1e" stroke-width="1.7" stroke-dasharray="7 4"/>
<path d="M95.15,432.31 L98.54,438.29 L91.76,438.29Z" fill="#1e1e1e"/>
<path d="M113.7,428.6 L117.09,434.59 L110.31,434.59Z" fill="#1e1e1e"/>
<path d="M132.25,416.74 L135.64,422.73 L128.86,422.73Z" fill="#1e1e1e"/>
<path d="M187.9,383.4 L191.29,389.39 L184.51,389.39Z" fill="#1e1e1e"/>
<path d="M95.15,435.69 L113.7,432.73 L132.25,419.02 L187.9,373.08" fill="none" stroke="#1e1e1e" stroke-width="1.7"/>
<rect x="92.49" y="433.04" width="5.31" height="5.31" fill="#1e1e1e"/>
<rect x="111.04" y="430.08" width="5.31" height="5.31" fill="#1e1e1e"/>
<rect x="129.59" y="416.37" width="5.31" height="5.31" fill="#1e1e1e"/>
<rect x="185.24" y="370.42" width="5.31" height="5.31" fill="#1e1e1e"/>
<path d="M254.1,309.21 V437.8 M254.1,437.8 H445.1 M250.5,437.8 H254.1 M250.5,419.43 H254.1 M250.5,401.06 H254.1 M250.5,382.69 H254.1 M250.5,364.32 H254.1 M250.5,345.95 H254.1 M250.5,327.58 H254.1 M250.5,309.21 H254.1 M254.1,437.8 V441.4 M292.3,437.8 V441.4 M330.5,437.8 V441.4 M368.7,437.8 V441.4 M406.9,437.8 V441.4 M445.1,437.8 V441.4" fill="none" stroke="#969696" stroke-width="1.1"/>
<text transform="translate(244.1,442.6) scale(0.93,1)" font-size="10" text-anchor="end" fill="#1c1c1c">0</text>
<text transform="translate(244.1,424.23) scale(0.93,1)" font-size="10" text-anchor="end" fill="#1c1c1c">5</text>
<text transform="translate(244.1,405.86) scale(0.93,1)" font-size="10" text-anchor="end" fill="#1c1c1c">10</text>
<text transform="translate(244.1,387.49) scale(0.93,1)" font-size="10" text-anchor="end" fill="#1c1c1c">15</text>
<text transform="translate(244.1,369.12) scale(0.93,1)" font-size="10" text-anchor="end" fill="#1c1c1c">20</text>
<text transform="translate(244.1,350.75) scale(0.93,1)" font-size="10" text-anchor="end" fill="#1c1c1c">25</text>
<text transform="translate(244.1,332.38) scale(0.93,1)" font-size="10" text-anchor="end" fill="#1c1c1c">30</text>
<text transform="translate(244.1,314.01) scale(0.93,1)" font-size="10" text-anchor="end" fill="#1c1c1c">35</text>
<path d="M311.4,429.72 V437.8 M308.4,429.72 H314.4 M330.5,426.41 V435.96 M327.5,426.41 H333.5 M327.5,435.96 H333.5 M349.6,406.2 V413.55 M346.6,406.2 H352.6 M346.6,413.55 H352.6 M387.8,363.22 V372.04 M384.8,363.22 H390.8 M384.8,372.04 H390.8 M406.9,333.83 V342.64 M403.9,333.83 H409.9 M403.9,342.64 H409.9" fill="none" stroke="#222" stroke-width="1.1"/>
<path d="M311.4,431.55 V437.43 M308.4,431.55 H314.4 M308.4,437.43 H314.4 M330.5,428.25 V435.6 M327.5,428.25 H333.5 M327.5,435.6 H333.5 M349.6,415.02 V423.84 M346.6,415.02 H352.6 M346.6,423.84 H352.6 M387.8,388.57 V396.65 M384.8,388.57 H390.8 M384.8,396.65 H390.8 M406.9,349.26 V358.07 M403.9,349.26 H409.9 M403.9,358.07 H409.9" fill="none" stroke="#222" stroke-width="1.1"/>
<path d="M311.4,432.29 V436.7 M308.4,432.29 H314.4 M308.4,436.7 H314.4 M330.5,428.98 V435.6 M327.5,428.98 H333.5 M327.5,435.6 H333.5 M349.6,416.49 V422.37 M346.6,416.49 H352.6 M346.6,422.37 H352.6 M387.8,398.12 V405.47 M384.8,398.12 H390.8 M384.8,405.47 H390.8 M406.9,377.55 V386.36 M403.9,377.55 H409.9 M403.9,386.36 H409.9" fill="none" stroke="#222" stroke-width="1.1"/>
<path d="M311.4,434.13 C314.58,433.64 324.13,435.23 330.5,431.19 C336.87,427.15 340.05,420.47 349.6,409.88 C359.15,399.28 378.25,379.57 387.8,367.63 C397.35,355.69 403.72,343.13 406.9,338.23" fill="none" stroke="#1e1e1e" stroke-width="1.6" stroke-dasharray="1.3 1.55"/>
<path d="M311.4,430.91 L314.62,434.13 L311.4,437.35 L308.18,434.13Z" fill="#1e1e1e"/>
<path d="M330.5,427.97 L333.72,431.19 L330.5,434.41 L327.28,431.19Z" fill="#1e1e1e"/>
<path d="M349.6,406.66 L352.82,409.88 L349.6,413.1 L346.38,409.88Z" fill="#1e1e1e"/>
<path d="M387.8,364.41 L391.02,367.63 L387.8,370.85 L384.58,367.63Z" fill="#1e1e1e"/>
<path d="M406.9,335.01 L410.12,338.23 L406.9,341.46 L403.68,338.23Z" fill="#1e1e1e"/>
<path d="M311.4,434.49 C314.58,434.13 324.13,434.8 330.5,432.29 C336.87,429.78 340.05,424.51 349.6,419.43 C359.15,414.35 378.25,408.04 387.8,401.79 C397.35,395.55 403.72,385.26 406.9,381.96" fill="none" stroke="#1e1e1e" stroke-width="1.7" stroke-dasharray="7 4"/>
<path d="M311.4,431.1 L314.79,437.09 L308.01,437.09Z" fill="#1e1e1e"/>
<path d="M330.5,428.9 L333.89,434.89 L327.11,434.89Z" fill="#1e1e1e"/>
<path d="M349.6,416.04 L352.99,422.03 L346.21,422.03Z" fill="#1e1e1e"/>
<path d="M387.8,398.4 L391.19,404.39 L384.41,404.39Z" fill="#1e1e1e"/>
<path d="M406.9,378.57 L410.29,384.55 L403.51,384.55Z" fill="#1e1e1e"/>
<path d="M311.4,434.49 C314.58,434.06 324.13,434.43 330.5,431.92 C336.87,429.41 340.05,425.98 349.6,419.43 C359.15,412.88 378.25,403.57 387.8,392.61 C397.35,381.65 403.72,360.16 406.9,353.67" fill="none" stroke="#1e1e1e" stroke-width="1.7"/>
<rect x="308.74" y="431.84" width="5.31" height="5.31" fill="#1e1e1e"/>
<rect x="327.84" y="429.27" width="5.31" height="5.31" fill="#1e1e1e"/>
<rect x="346.94" y="416.77" width="5.31" height="5.31" fill="#1e1e1e"/>
<rect x="385.14" y="389.95" width="5.31" height="5.31" fill="#1e1e1e"/>
<rect x="404.24" y="351.01" width="5.31" height="5.31" fill="#1e1e1e"/>
<path d="M476.2,308.31 V437.6 M476.2,437.6 H679.9 M472.6,437.6 H476.2 M472.6,419.13 H476.2 M472.6,400.66 H476.2 M472.6,382.19 H476.2 M472.6,363.72 H476.2 M472.6,345.25 H476.2 M472.6,326.78 H476.2 M472.6,308.31 H476.2 M476.2,437.6 V441.2 M516.94,437.6 V441.2 M557.68,437.6 V441.2 M598.42,437.6 V441.2 M639.16,437.6 V441.2 M679.9,437.6 V441.2" fill="none" stroke="#969696" stroke-width="1.1"/>
<text transform="translate(465.9,442.4) scale(0.93,1)" font-size="10" text-anchor="end" fill="#1c1c1c">0</text>
<text transform="translate(465.9,423.93) scale(0.93,1)" font-size="10" text-anchor="end" fill="#1c1c1c">5</text>
<text transform="translate(465.9,405.46) scale(0.93,1)" font-size="10" text-anchor="end" fill="#1c1c1c">10</text>
<text transform="translate(465.9,386.99) scale(0.93,1)" font-size="10" text-anchor="end" fill="#1c1c1c">15</text>
<text transform="translate(465.9,368.52) scale(0.93,1)" font-size="10" text-anchor="end" fill="#1c1c1c">20</text>
<text transform="translate(465.9,350.05) scale(0.93,1)" font-size="10" text-anchor="end" fill="#1c1c1c">25</text>
<text transform="translate(465.9,331.58) scale(0.93,1)" font-size="10" text-anchor="end" fill="#1c1c1c">30</text>
<text transform="translate(465.9,313.11) scale(0.93,1)" font-size="10" text-anchor="end" fill="#1c1c1c">35</text>
<path d="M537.31,427.26 V437.6 M534.31,427.26 H540.31 M557.68,419.13 V433.91 M554.68,419.13 H560.68 M554.68,433.91 H560.68 M578.05,403.98 V420.98 M575.05,403.98 H581.05 M575.05,420.98 H581.05 M618.79,374.43 V388.47 M615.79,374.43 H621.79 M615.79,388.47 H621.79 M639.16,330.1 V344.14 M636.16,330.1 H642.16 M636.16,344.14 H642.16" fill="none" stroke="#222" stroke-width="1.1"/>
<path d="M537.31,428.37 V437.6 M534.31,428.37 H540.31 M557.68,420.24 V433.54 M554.68,420.24 H560.68 M554.68,433.54 H560.68 M578.05,404.72 V423.19 M575.05,404.72 H581.05 M575.05,423.19 H581.05 M618.79,394.38 V408.42 M615.79,394.38 H621.79 M615.79,408.42 H621.79 M639.16,353.01 V365.57 M636.16,353.01 H642.16 M636.16,365.57 H642.16" fill="none" stroke="#222" stroke-width="1.1"/>
<path d="M537.31,430.58 V437.6 M534.31,430.58 H540.31 M557.68,424.67 V433.54 M554.68,424.67 H560.68 M554.68,433.54 H560.68 M578.05,416.17 V426.52 M575.05,416.17 H581.05 M575.05,426.52 H581.05 M618.79,403.98 V414.33 M615.79,403.98 H621.79 M615.79,414.33 H621.79 M639.16,373.69 V384.04 M636.16,373.69 H642.16 M636.16,384.04 H642.16" fill="none" stroke="#6e6e6e" stroke-width="1.1"/>
<path d="M537.31,433.91 C540.7,432.67 550.89,430.09 557.68,426.52 C564.47,422.95 567.87,419.99 578.05,412.48 C588.23,404.97 608.61,394.01 618.79,381.45 C628.97,368.89 635.76,344.51 639.16,337.12" fill="none" stroke="#1e1e1e" stroke-width="1.6" stroke-dasharray="1.3 1.55"/>
<path d="M537.31,430.69 L540.53,433.91 L537.31,437.13 L534.09,433.91Z" fill="#1e1e1e"/>
<path d="M557.68,423.3 L560.9,426.52 L557.68,429.74 L554.46,426.52Z" fill="#1e1e1e"/>
<path d="M578.05,409.26 L581.27,412.48 L578.05,415.7 L574.83,412.48Z" fill="#1e1e1e"/>
<path d="M618.79,378.23 L622.01,381.45 L618.79,384.67 L615.57,381.45Z" fill="#1e1e1e"/>
<path d="M639.16,333.9 L642.38,337.12 L639.16,340.34 L635.94,337.12Z" fill="#1e1e1e"/>
<path d="M537.31,434.28 C540.7,433.41 550.89,431.26 557.68,429.1 C564.47,426.95 567.87,424.67 578.05,421.35 C588.23,418.02 608.61,416.24 618.79,409.16 C628.97,402.08 635.76,383.91 639.16,378.87" fill="none" stroke="#6a6a6a" stroke-width="1.4" stroke-dasharray="7 4"/>
<path d="M537.31,430.89 L540.7,436.87 L533.92,436.87Z" fill="#1e1e1e"/>
<path d="M557.68,425.71 L561.07,431.7 L554.29,431.7Z" fill="#1e1e1e"/>
<path d="M578.05,417.96 L581.44,423.95 L574.66,423.95Z" fill="#1e1e1e"/>
<path d="M618.79,405.77 L622.18,411.76 L615.4,411.76Z" fill="#1e1e1e"/>
<path d="M639.16,375.48 L642.55,381.46 L635.77,381.46Z" fill="#1e1e1e"/>
<path d="M537.31,433.91 C540.7,432.74 550.89,430.21 557.68,426.89 C564.47,423.56 567.87,418.21 578.05,413.96 C588.23,409.71 608.61,410.51 618.79,401.4 C628.97,392.29 635.76,366.31 639.16,359.29" fill="none" stroke="#1e1e1e" stroke-width="1.7"/>
<rect x="534.65" y="431.25" width="5.31" height="5.31" fill="#1e1e1e"/>
<rect x="555.02" y="424.23" width="5.31" height="5.31" fill="#1e1e1e"/>
<rect x="575.39" y="411.3" width="5.31" height="5.31" fill="#1e1e1e"/>
<rect x="616.13" y="398.74" width="5.31" height="5.31" fill="#1e1e1e"/>
<rect x="636.5" y="356.63" width="5.31" height="5.31" fill="#1e1e1e"/>
<text transform="translate(39.5,457.9) scale(0.95,1)" font-size="10.6" text-anchor="middle" fill="#1c1c1c">0</text>
<text transform="translate(76.6,457.9) scale(0.95,1)" font-size="10.6" text-anchor="middle" fill="#1c1c1c">2</text>
<text transform="translate(113.7,457.9) scale(0.95,1)" font-size="10.6" text-anchor="middle" fill="#1c1c1c">4</text>
<text transform="translate(150.8,457.9) scale(0.95,1)" font-size="10.6" text-anchor="middle" fill="#1c1c1c">6</text>
<text transform="translate(187.9,457.9) scale(0.95,1)" font-size="10.6" text-anchor="middle" fill="#1c1c1c">8</text>
<text transform="translate(225,457.9) scale(0.95,1)" font-size="10.6" text-anchor="middle" fill="#1c1c1c">10</text>
<text transform="translate(254.1,456.4) scale(0.95,1)" font-size="10.6" text-anchor="middle" fill="#1c1c1c">0</text>
<text transform="translate(292.3,456.4) scale(0.95,1)" font-size="10.6" text-anchor="middle" fill="#1c1c1c">2</text>
<text transform="translate(330.5,456.4) scale(0.95,1)" font-size="10.6" text-anchor="middle" fill="#1c1c1c">4</text>
<text transform="translate(368.7,456.4) scale(0.95,1)" font-size="10.6" text-anchor="middle" fill="#1c1c1c">6</text>
<text transform="translate(406.9,456.4) scale(0.95,1)" font-size="10.6" text-anchor="middle" fill="#1c1c1c">8</text>
<text transform="translate(445.1,456.4) scale(0.95,1)" font-size="10.6" text-anchor="middle" fill="#1c1c1c">10</text>
<text transform="translate(476.2,456.4) scale(0.95,1)" font-size="10.6" text-anchor="middle" fill="#1c1c1c">0</text>
<text transform="translate(516.94,456.4) scale(0.95,1)" font-size="10.6" text-anchor="middle" fill="#1c1c1c">2</text>
<text transform="translate(557.68,456.4) scale(0.95,1)" font-size="10.6" text-anchor="middle" fill="#1c1c1c">4</text>
<text transform="translate(598.42,456.4) scale(0.95,1)" font-size="10.6" text-anchor="middle" fill="#1c1c1c">6</text>
<text transform="translate(639.16,456.4) scale(0.95,1)" font-size="10.6" text-anchor="middle" fill="#1c1c1c">8</text>
<text transform="translate(679.9,456.4) scale(0.95,1)" font-size="10.6" text-anchor="middle" fill="#1c1c1c">10</text>
<text x="45" y="14" font-size="14.3" font-weight="bold" fill="#111" textLength="16.4" lengthAdjust="spacingAndGlyphs">(a)</text>
<text x="253.5" y="14.9" font-size="14" font-weight="bold" fill="#111">(b)</text>
<text x="478.5" y="14.9" font-size="14" font-weight="bold" fill="#111">(c)</text>
<text x="45.5" y="168.8" font-size="14.0" font-weight="bold" fill="#111" textLength="17.6" lengthAdjust="spacingAndGlyphs">(d)</text>
<text x="257.5" y="170.3" font-size="14.0" font-weight="bold" fill="#111" textLength="17.0" lengthAdjust="spacingAndGlyphs">(e)</text>
<text x="481" y="170.6" font-size="14.0" font-weight="bold" fill="#111" textLength="13.4" lengthAdjust="spacingAndGlyphs">(f)</text>
<text x="45.5" y="318" font-size="14.2" font-weight="bold" fill="#111" textLength="17.8" lengthAdjust="spacingAndGlyphs">(g)</text>
<text x="259.3" y="316.3" font-size="14.0" font-weight="bold" fill="#111" textLength="17.9" lengthAdjust="spacingAndGlyphs">(h)</text>
<text x="481.9" y="316" font-size="14.0" font-weight="bold" fill="#111" textLength="12.9" lengthAdjust="spacingAndGlyphs">(i)</text>
<text x="65" y="12.7" font-size="10.5" fill="#1c1c1c" textLength="42" lengthAdjust="spacingAndGlyphs">400 µL L</text><text x="106.6" y="10.1" font-size="8" fill="#000">-1</text>
<text x="273.7" y="15" font-size="10.5" fill="#1c1c1c" textLength="43" lengthAdjust="spacingAndGlyphs">600 µL L</text><text x="316.3" y="12.4" font-size="8" fill="#000">-1</text>
<text x="496.7" y="14.2" font-size="10.5" fill="#1c1c1c" textLength="43" lengthAdjust="spacingAndGlyphs">800 µL L</text><text x="539.3" y="11" font-size="8" fill="#000">-1</text>
<path d="M55.2,49.5 H81.8" fill="none" stroke="#1e1e1e" stroke-width="1.6" stroke-dasharray="1.3 1.55"/>
<path d="M68.6,46.65 L71.45,49.5 L68.6,52.35 L65.75,49.5Z" fill="#1e1e1e"/>
<text x="84.5" y="53" font-size="9.8" fill="#1c1c1c">high-</text>
<path d="M55.2,65.9 H81.8" fill="none" stroke="#1e1e1e" stroke-width="1.7"/>
<rect x="66.25" y="63.55" width="4.7" height="4.7" fill="#1e1e1e"/>
<text x="84.5" y="69.4" font-size="9.8" fill="#1c1c1c">mid-</text>
<path d="M54.7,82.0 H60.8 M76.7,82.0 H82.5" stroke="#1e1e1e" stroke-width="1.5"/>
<path d="M68.6,79 L71.6,84.3 L65.6,84.3Z" fill="#1e1e1e"/>
<text x="84.5" y="86" font-size="9.8" fill="#1c1c1c">low-</text>
<text transform="translate(12,72.3) rotate(-90)" text-anchor="middle" font-size="14" fill="#1c1c1c" textLength="117" lengthAdjust="spacingAndGlyphs">Male inflorescences</text>
<text transform="translate(12,220.1) rotate(-90)" text-anchor="middle" font-size="14" fill="#1c1c1c" textLength="69.2" lengthAdjust="spacingAndGlyphs">Height (cm)</text>
<text transform="translate(13.4,374.6) rotate(-90)" text-anchor="middle" font-size="13.5" fill="#1c1c1c" textLength="54" lengthAdjust="spacingAndGlyphs">Branches</text>
<text x="334.6" y="475.7" font-size="12.8" fill="#1c1c1c" textLength="33.2" lengthAdjust="spacingAndGlyphs">Week</text>
</svg>
</body>
</html>
